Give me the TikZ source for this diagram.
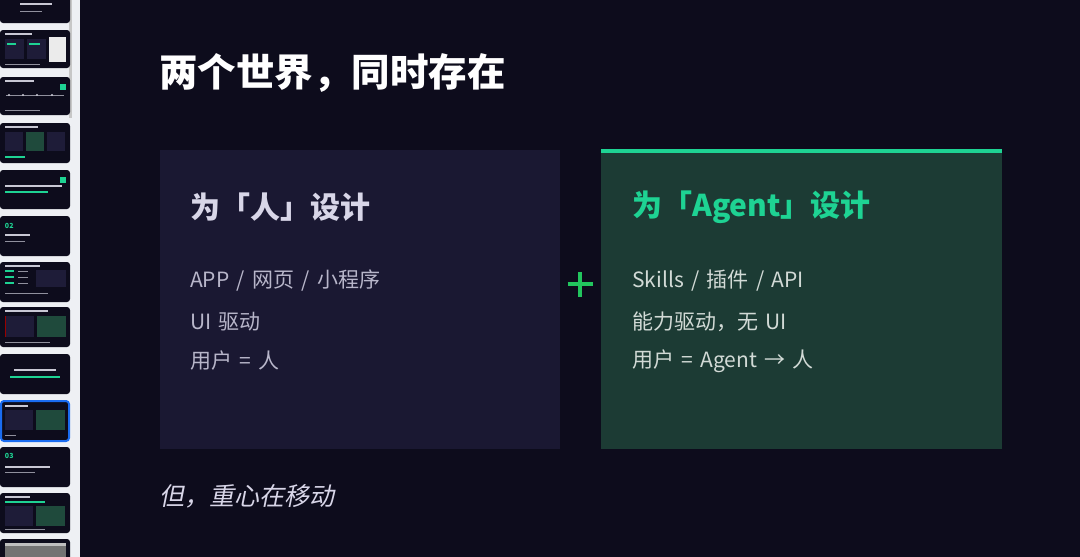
\documentclass[tikz,border=0pt]{standalone}
\usepackage{fontspec}
\setmainfont{Noto Sans CJK SC}
\newfontfamily\slantfont{Noto Sans CJK SC}[FakeSlant=0.2]
\newcommand\widespaces{\spaceskip=0.35em\relax}
\definecolor{pagebg}{HTML}{0D0C1C}
\definecolor{sidebg}{HTML}{EEF0F4}
\definecolor{humanbox}{HTML}{1A1832}
\definecolor{agentbox}{HTML}{1C3B34}
\definecolor{accent}{HTML}{1ED393}
\definecolor{plusgreen}{HTML}{22C55E}
\definecolor{headgray}{HTML}{D8D6E8}
\definecolor{bodygray}{HTML}{B8B6CA}
\definecolor{bodylight}{HTML}{D2DAD6}
\definecolor{selblue}{HTML}{1A6CF0}
\definecolor{thumbtxt}{HTML}{C8C8D4}
\definecolor{thumbbox}{HTML}{1E1C38}
\definecolor{thumbgreen}{HTML}{1F4A3C}
\tikzset{
  panel/.style={inner sep=0, outer sep=0},
  heading/.style={anchor=west, inner sep=0, font=\fontsize{30}{32}\selectfont\bfseries},
  bodyline/.style={anchor=west, inner sep=0, font=\fontsize{21}{24}\selectfont, execute at begin node=\widespaces},
  thumb/.style={fill=pagebg, rounded corners=3pt},
  tline/.style={thumbtxt, line width=1.4pt},
  gline/.style={accent, line width=1.2pt},
  sline/.style={thumbtxt!70!pagebg, line width=0.9pt},
}
\begin{document}
\begin{tikzpicture}[x=1pt,y=-1pt]
\useasboundingbox (0,0) rectangle (1080,557);
% backgrounds
\fill[sidebg] (0,0) rectangle (80,557);
\fill[pagebg] (80,0) rectangle (1080,557);
\fill[black!22] (68.5,0) rectangle (72,118);
% ---- sidebar thumbnails ----
% 1
\fill[thumb] (0,-5) rectangle (70,23);
\draw[tline] (20,4) -- (52,4);
\draw[sline] (20,11) -- (42,11);
% 2
\fill[thumb] (0,30) rectangle (70,68);
\draw[tline] (5,34) -- (32,34);
\fill[thumbbox] (5,39) rectangle (24,59);
\fill[thumbbox] (27,39) rectangle (46,59);
\draw[gline] (7,44) -- (16,44); \draw[gline] (29,44) -- (40,44);
\fill[white!92!black] (49,37) rectangle (66,62);
\draw[sline] (5,64) -- (40,64);
% 3
\fill[thumb] (0,77) rectangle (70,115);
\draw[tline] (5,81) -- (34,81);
\fill[accent] (60,84) rectangle (66,90);
\draw[sline] (6,95) -- (64,95);
\foreach \xx in {9,23,37,52} \fill[thumbtxt] (\xx,95) circle (1.2);
\draw[sline] (5,110) -- (40,110);
% 4
\fill[thumb] (0,123) rectangle (70,163);
\draw[tline] (5,127) -- (38,127);
\fill[thumbbox] (5,132) rectangle (23,151);
\fill[thumbgreen] (26,132) rectangle (44,151);
\fill[thumbbox] (47,132) rectangle (65,151);
\draw[gline] (5,157) -- (25,157);
% 5
\fill[thumb] (0,170) rectangle (70,209);
\fill[accent] (60,177) rectangle (66,183);
\draw[tline] (5,186) -- (62,186);
\draw[gline] (5,192) -- (48,192);
% 6
\fill[thumb] (0,216) rectangle (70,256);
\node[panel, anchor=west, text=accent, font=\fontsize{7}{7}\selectfont\bfseries] (n02) at (5,226) {02};
\draw[tline] (5,235) -- (30,235);
\draw[sline] (5,241) -- (25,241);
% 7
\fill[thumb] (0,262) rectangle (70,302);
\draw[tline] (5,266) -- (40,266);
\draw[gline] (5,271) -- (14,271); \draw[sline] (18,271) -- (28,271);
\draw[gline] (5,277) -- (14,277); \draw[sline] (18,277) -- (28,277);
\draw[gline] (5,283) -- (14,283); \draw[sline] (18,283) -- (28,283);
\fill[thumbbox] (36,270) rectangle (66,287);
\draw[sline] (5,293) -- (48,293);
% 8
\fill[thumb] (0,307) rectangle (70,347);
\draw[tline] (5,311) -- (48,311);
\fill[thumbbox] (5,316) rectangle (34,337);
\draw[red!60!black, line width=0.6pt] (5,316) -- (5,337);
\fill[thumbgreen] (37,316) rectangle (66,337);
\draw[sline] (5,342) -- (50,342);
% 9
\fill[thumb] (0,354) rectangle (70,394);
\draw[tline] (14,370) -- (56,370);
\draw[gline] (10,377) -- (60,377);
% 10 (selected)
\fill[thumb, draw=selblue, line width=2pt] (1,401) rectangle (69,441);
\draw[tline] (5,406) -- (28,406);
\fill[thumbbox] (5,410) rectangle (33,430);
\fill[thumbgreen] (36,410) rectangle (65,430);
\draw[sline] (5,435) -- (16,435);
% 11
\fill[thumb] (0,447) rectangle (70,487);
\node[panel, anchor=west, text=accent, font=\fontsize{7}{7}\selectfont\bfseries] (n03) at (5,456) {03};
\draw[tline] (5,467) -- (50,467);
\draw[sline] (5,472) -- (35,472);
% 12
\fill[thumb] (0,493) rectangle (70,533);
\draw[tline] (5,497) -- (30,497);
\draw[gline] (5,502) -- (45,502);
\fill[thumbbox] (5,506) rectangle (33,526);
\fill[thumbgreen] (36,506) rectangle (65,526);
\draw[sline] (5,529) -- (45,529);
% 13
\fill[thumb] (0,539) rectangle (70,565);
\fill[black!55] (5,543) rectangle (66,565);
\fill[black!25] (5,543) rectangle (66,546);
% ---- main slide ----
\node[panel, anchor=west, text=white, font=\fontsize{38.5}{40}\selectfont\bfseries] (title) at (159,73) {两个世界，同时存在};
% left panel
\fill[humanbox] (160,150) rectangle (560,449);
\node[heading, text=headgray] (hhead) at (190,207) {为「人」设计};
\node[bodyline, text=bodygray] (h1) at (190,281) {APP / 网页 / 小程序};
\node[bodyline, text=bodygray] (h2) at (190,322) {UI 驱动};
\node[bodyline, text=bodygray] (h3) at (190,361) {用户 = 人};
% right panel
\fill[agentbox] (601,150) rectangle (1002,449);
\fill[accent] (601,149) rectangle (1002,153);
\node[heading, text=accent] (ahead) at (632,207) {为「Agent」设计};
\node[bodyline, text=bodylight] (a1) at (632,281) {Skills / 插件 / API};
\node[bodyline, text=bodylight] (a2) at (632,322) {能力驱动，无 UI};
\node[bodyline, text=bodylight] (a3) at (632,361) {用户 = Agent → 人};
% plus
\node[panel] (plus) at (580,284) {};
\draw[plusgreen, line width=3.5pt] ([xshift=-12.5pt]plus.center) -- ([xshift=12.5pt]plus.center);
\draw[plusgreen, line width=3.5pt] ([yshift=-12.5pt]plus.center) -- ([yshift=12.5pt]plus.center);
% bottom
\node[panel, anchor=west, text=headgray, font=\fontsize{25}{27}\selectfont\slantfont] (shift) at (159,496) {但，重心在移动};
\end{tikzpicture}
\end{document}
